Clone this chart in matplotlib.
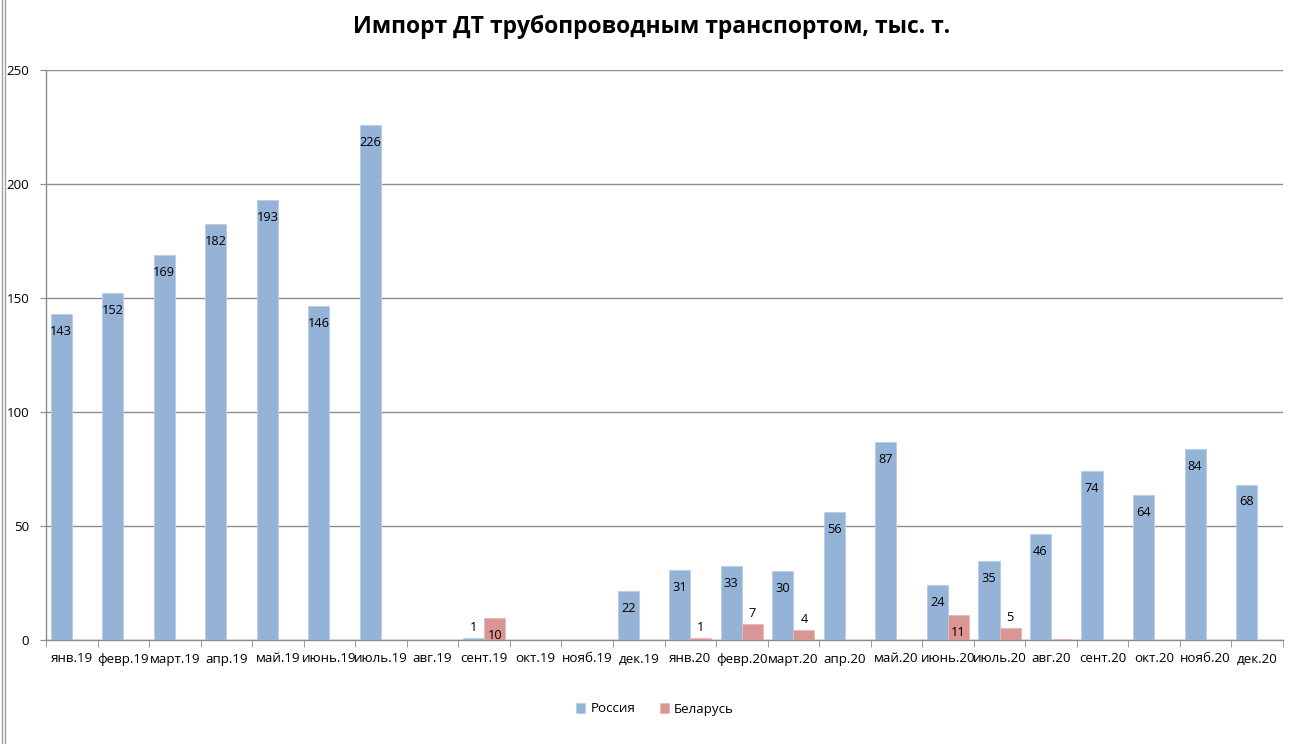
import matplotlib
matplotlib.use("Agg")
import matplotlib.pyplot as plt
import numpy as np
from matplotlib.lines import Line2D

plt.rcParams['font.family'] = ['Open Sans', 'DejaVu Sans']

categories = ["янв.19", "февр.19", "март.19", "апр.19", "май.19", "июнь.19", "июль.19",
              "авг.19", "сент.19", "окт.19", "нояб.19", "дек.19",
              "янв.20", "февр.20", "март.20", "апр.20", "май.20", "июнь.20", "июль.20",
              "авг.20", "сент.20", "окт.20", "нояб.20", "дек.20"]
russia = [143, 152, 169, 182.5, 193, 146.5, 226, 0, 0.8, 0, 0, 21.5,
          30.7, 32.6, 30.1, 56.2, 86.7, 24.2, 34.6, 46.4, 74.2, 63.6, 83.6, 68.2]
belarus = [0, 0, 0, 0, 0, 0, 0, 0, 9.7, 0, 0, 0,
           0.8, 7.0, 4.3, 0, 0, 10.8, 5.2, 0.3, 0, 0, 0, 0]
series_names = ["Россия", "Беларусь"]
title = "Импорт ДТ трубопроводным транспортом, тыс. т."

c_rus = "#95B3D7"
c_bel = "#D99694"

fig = plt.figure(figsize=(13.04, 7.44), dpi=100)
ax = fig.add_axes([46/1304, 1-640/744, (1283-46)/1304, (640-70)/744])

n = len(categories)
x = np.arange(n)
w = 0.41
ax.bar(x - w/2, russia, width=w, color=c_rus, edgecolor="#b9cde6", linewidth=0.6, label=series_names[0], zorder=3)
ax.bar(x + w/2, belarus, width=w, color=c_bel, edgecolor="#e8b8b6", linewidth=0.6, label=series_names[1], zorder=3)

ax.set_xlim(-0.5, n - 0.5)
ax.set_ylim(0, 250)
ax.set_yticks(range(0, 251, 50))
ax.yaxis.grid(True, color="#8c8c8c", linewidth=1.0, zorder=0)
ax.set_axisbelow(True)

for s in ["top", "right"]:
    ax.spines[s].set_visible(False)
for s in ["left", "bottom"]:
    ax.spines[s].set_color("#8c8c8c")
    ax.spines[s].set_linewidth(1.0)

ax.set_xticks(x)
ax.set_xticklabels(categories, fontsize=9.6)
ax.tick_params(axis="x", length=0, pad=9)
ax.set_xticks(np.arange(-0.5, n, 1.0), minor=True)
ax.tick_params(axis="x", which="minor", length=5, color="#8c8c8c")
ax.tick_params(axis="y", length=4, color="#8c8c8c", labelsize=9.6, pad=8)

def label(vals, offs):
    for xi, v in zip(x, vals):
        if round(v) <= 0:
            continue
        if v >= 9:
            ax.annotate(f"{round(v)}", xy=(xi + offs, v), xytext=(0, -12.5),
                        textcoords="offset points", ha="center", va="center",
                        fontsize=9.2, zorder=5)
        else:
            ax.annotate(f"{round(v)}", xy=(xi + offs, v), xytext=(0, 3),
                        textcoords="offset points", ha="center", va="bottom",
                        fontsize=9.2, zorder=5)

label(russia, -w/2)
label(belarus, w/2)

fig.text(652/1304, 1 - 27/744, title, ha="center", va="center", fontsize=16.5, fontweight="bold")

leg = fig.legend(loc="center", bbox_to_anchor=(655/1304, 1 - 709/744), ncol=2, frameon=False,
                 fontsize=9.6, handlelength=0.7, handleheight=0.7, columnspacing=1.8, handletextpad=0.4)

fig.add_artist(Line2D([2/1304, 2/1304], [0, 1], color="#a0a0a0", linewidth=1.0))
fig.add_artist(Line2D([5/1304, 5/1304], [0, 1], color="#a0a0a0", linewidth=1.0))

fig.savefig("out.png", dpi=100)
